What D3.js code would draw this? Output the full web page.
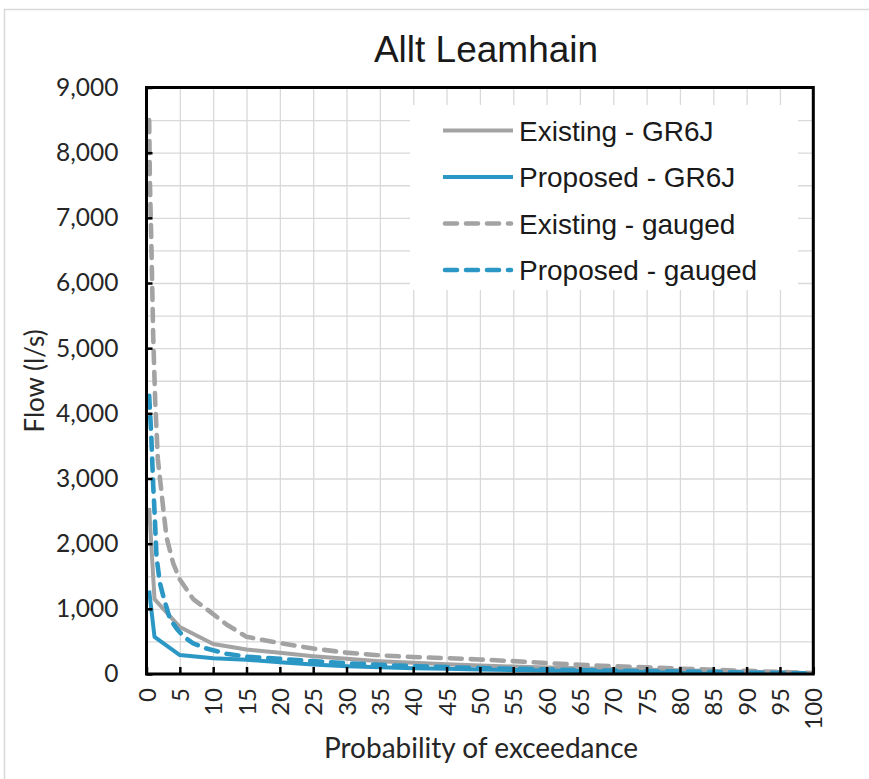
<!DOCTYPE html>
<html>
<head>
<meta charset="utf-8">
<script src="https://cdn.jsdelivr.net/npm/d3@7"></script>
<style>
  html, body { margin: 0; padding: 0; background: #ffffff; }
  svg { display: block; }
</style>
</head>
<body>
<script>
// ---------- DATA ----------
const chartTitle = "Allt Leamhain";
const xAxisTitle = "Probability of exceedance";
const yAxisTitle = "Flow (l/s)";
const seriesNames = ["Existing - GR6J", "Proposed - GR6J", "Existing - gauged", "Proposed - gauged"];

const xTicks = [0, 5, 10, 15, 20, 25, 30, 35, 40, 45, 50, 55, 60, 65, 70, 75, 80, 85, 90, 95, 100];
const yTicks = [0, 1000, 2000, 3000, 4000, 5000, 6000, 7000, 8000, 9000];

const exceedanceGR6J = [0.4, 1.2, 5, 10, 15, 20, 25, 30, 35, 40, 45, 50, 55, 60, 65, 70, 75, 80, 85, 90, 95, 100];
const existingGR6J   = [2550, 1150, 720, 460, 375, 325, 274, 233, 197, 172, 148, 131, 115, 100, 88, 77, 66, 56, 46, 36, 26, 12];
const proposedGR6J   = [1280, 570, 290, 240, 220, 181, 146, 120, 105, 90, 80, 70, 60, 52, 45, 38, 32, 26, 20, 15, 10, 5];

const exceedanceExistingGauged = [0.4, 0.5, 0.75, 1, 1.3, 1.7, 2.5, 3, 4, 5, 7, 10, 12,
  15, 20, 25, 30, 35, 40, 45, 50, 55, 60, 65, 70, 75, 80, 85, 90, 95, 100];
const existingGauged = [8500, 7600, 6500, 5200, 4200, 3300, 2550, 2100, 1700, 1450, 1150, 920, 760,
  570, 475, 390, 328, 286, 260, 243, 223, 197, 168, 143, 120, 102, 82, 65, 48, 32, 15];

const exceedanceProposedGauged = [0.4, 0.7, 1, 1.25, 1.5, 2, 2.5, 3.5, 4.5, 5.5, 7, 9, 12,
  15, 20, 25, 30, 35, 40, 45, 50, 55, 60, 65, 70, 75, 80, 85, 90, 95, 100];
const proposedGauged = [4270, 3700, 2900, 2400, 1800, 1400, 1200, 850, 700, 580, 470, 390, 310,
  265, 233, 197, 166, 140, 120, 105, 90, 80, 70, 60, 52, 45, 38, 30, 22, 15, 8];

// ---------- LAYOUT ----------
const W = 869, H = 779;
const plot = { left: 146.5, right: 813.3, top: 87.5, bottom: 674 };
const GREY = "#a3a3a3", BLUE = "#2b97c5";
const tickFont = "Lato, 'Open Sans', sans-serif";
const mainFont = "'Liberation Sans', Arial, sans-serif";

const svg = d3.select("body").append("svg").attr("width", W).attr("height", H);

// outer chart frame
svg.append("rect").attr("x", 4.5).attr("y", 9.5).attr("width", W + 20).attr("height", H + 20)
  .attr("fill", "#fff").attr("stroke", "#d9d9d9").attr("stroke-width", 1.5);

const x = d3.scaleLinear().domain([0, 100]).range([plot.left, plot.right]);
const y = d3.scaleLinear().domain([0, 9000]).range([plot.bottom, plot.top]);

// gridlines
const grid = svg.append("g");
grid.append("g")
  .attr("transform", `translate(0,${plot.bottom})`)
  .call(d3.axisBottom(x).tickValues(xTicks).tickSize(-(plot.bottom - plot.top)).tickFormat(""))
  .call(g => g.select(".domain").remove())
  .call(g => g.selectAll("line").attr("stroke", "#d9d9d9").attr("stroke-width", 1.3));
grid.append("g")
  .attr("transform", `translate(${plot.left},0)`)
  .call(d3.axisLeft(y).tickValues(d3.range(0, 9001, 500)).tickSize(-(plot.right - plot.left)).tickFormat(""))
  .call(g => g.select(".domain").remove())
  .call(g => g.selectAll("line").attr("stroke", "#d9d9d9").attr("stroke-width", 1.3));

// legend background (covers gridlines)
const legend = { x: 410, y: 105, w: 388, h: 185 };
svg.append("rect").attr("x", legend.x).attr("y", legend.y).attr("width", legend.w).attr("height", legend.h)
  .attr("fill", "#fff");

// clip
svg.append("clipPath").attr("id", "clip").append("rect")
  .attr("x", plot.left).attr("y", plot.top).attr("width", plot.right - plot.left).attr("height", plot.bottom - plot.top);

const series = [
  { name: seriesNames[0], xs: exceedanceGR6J, ys: existingGR6J, color: GREY, dash: null },
  { name: seriesNames[1], xs: exceedanceGR6J, ys: proposedGR6J, color: BLUE, dash: null },
  { name: seriesNames[2], xs: exceedanceExistingGauged, ys: existingGauged, color: GREY, dash: "12,9" },
  { name: seriesNames[3], xs: exceedanceProposedGauged, ys: proposedGauged, color: BLUE, dash: "12,9" }
];

const line = d3.line().x(d => x(d[0])).y(d => y(d[1]));
const lines = svg.append("g").attr("clip-path", "url(#clip)");
series.forEach(s => {
  const pts = s.xs.map((v, i) => [v, s.ys[i]]);
  lines.append("path").datum(pts).attr("d", line)
    .attr("fill", "none").attr("stroke", s.color).attr("stroke-width", s.dash ? 4.6 : 4)
    .attr("stroke-linejoin", "round")
    .attr("stroke-linecap", s.dash ? "round" : "butt")
    .attr("stroke-dasharray", s.dash);
});

// plot border
svg.append("rect").attr("x", plot.left).attr("y", plot.top)
  .attr("width", plot.right - plot.left).attr("height", plot.bottom - plot.top)
  .attr("fill", "none").attr("stroke", "#000").attr("stroke-width", 3);

// axes (inside ticks)
const xAxis = svg.append("g").attr("transform", `translate(0,${plot.bottom})`)
  .call(d3.axisBottom(x).tickValues(xTicks).tickSizeInner(-7).tickSizeOuter(0).tickPadding(14));
xAxis.select(".domain").remove();
xAxis.selectAll("line").attr("stroke", "#000").attr("stroke-width", 2.5);
xAxis.selectAll("text")
  .attr("font-family", tickFont).attr("font-size", 24).attr("fill", "#262626")
  .attr("transform", "rotate(-90)")
  .attr("text-anchor", "end")
  .attr("x", -14).attr("y", 0).attr("dy", "0.36em");

const yAxis = svg.append("g").attr("transform", `translate(${plot.left},0)`)
  .call(d3.axisLeft(y).tickValues(yTicks).tickSizeInner(-6).tickSizeOuter(0).tickPadding(28)
    .tickFormat(d3.format(",")));
yAxis.select(".domain").remove();
yAxis.selectAll("line").attr("stroke", "#000").attr("stroke-width", 2.5);
yAxis.selectAll("text")
  .attr("font-family", tickFont).attr("font-size", 24.5).attr("fill", "#262626");

// titles
svg.append("text").attr("x", 486).attr("y", 62).attr("text-anchor", "middle")
  .attr("font-family", mainFont).attr("font-size", 37).attr("fill", "#1a1a1a").text(chartTitle);
svg.append("text").attr("x", 481).attr("y", 758).attr("text-anchor", "middle")
  .attr("font-family", tickFont).attr("font-size", 28).attr("fill", "#262626").text(xAxisTitle);
svg.append("text").attr("transform", "translate(44,381) rotate(-90)").attr("text-anchor", "middle")
  .attr("font-family", tickFont).attr("font-size", 26).attr("fill", "#262626").text(yAxisTitle);

// legend entries
const lg = svg.append("g");
series.forEach((s, i) => {
  const cy = 130.5 + i * 46.5;
  lg.append("line").attr("x1", s.dash ? 445 : 443).attr("x2", s.dash ? 511 : 513).attr("y1", cy).attr("y2", cy)
    .attr("stroke", s.color).attr("stroke-width", s.dash ? 4.6 : 4)
    .attr("stroke-linecap", s.dash ? "round" : "butt")
    .attr("stroke-dasharray", s.dash);
  lg.append("text").attr("x", 519).attr("y", cy).attr("dy", "0.36em")
    .attr("font-family", mainFont).attr("font-size", 28).attr("fill", "#1a1a1a").text(s.name);
});
</script>
</body>
</html>
